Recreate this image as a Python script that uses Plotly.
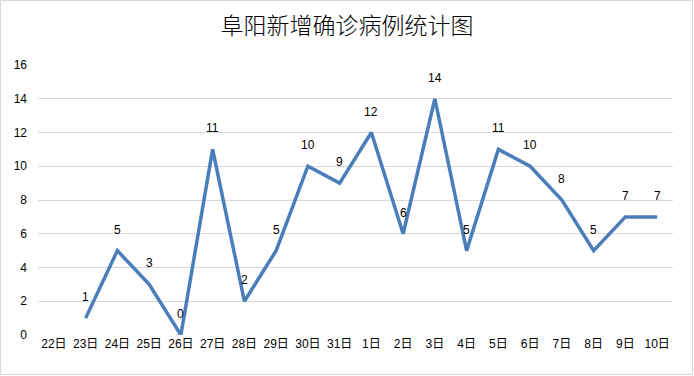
import plotly.graph_objects as go

categories = ["22日", "23日", "24日", "25日", "26日", "27日", "28日", "29日", "30日", "31日",
              "1日", "2日", "3日", "4日", "5日", "6日", "7日", "8日", "9日", "10日"]
values = [None, 1, 5, 3, 0, 11, 2, 5, 10, 9, 12, 6, 14, 5, 11, 10, 8, 5, 7, 7]
title = "阜阳新增确诊病例统计图"
y_ticks = [0, 2, 4, 6, 8, 10, 12, 14, 16]

W, H = 694, 376
ML, MR, MT, MB = 38, 21, 65, 41
PW, PH = W - ML - MR, H - MT - MB

font_fam = "Liberation Sans, Noto Sans CJK SC, sans-serif"

fig = go.Figure()
fig.add_trace(go.Scatter(
    x=categories, y=values, mode="lines",
    line=dict(color="#4A7EBB", width=3.5),
    connectgaps=False, hoverinfo="x+y",
))

for c, v in zip(categories, values):
    if v is None:
        continue
    fig.add_annotation(x=c, y=v, text=str(v), showarrow=False, yshift=21,
                       font=dict(size=12, color="#000000", family=font_fam))

fig.add_shape(type="rect", xref="paper", yref="paper",
              x0=-(ML - 0.5) / PW, x1=1 + (MR - 1.5) / PW,
              y0=-(MB - 1.5) / PH, y1=1 + (MT - 0.5) / PH,
              line=dict(color="#D9D9D9", width=1), layer="below")

fig.update_layout(
    width=W, height=H,
    margin=dict(l=ML, r=MR, t=MT, b=MB),
    paper_bgcolor="white", plot_bgcolor="white",
    showlegend=False,
    title=dict(text=title, x=0.5, xanchor="center", y=1 - 26 / H, yanchor="middle",
               font=dict(size=23, color="#000000", weight=300,
                         family="Noto Sans CJK SC, sans-serif")),
    xaxis=dict(type="category", categoryorder="array", categoryarray=categories,
               showgrid=False, showline=False, ticks="", zeroline=False,
               tickfont=dict(size=12, color="#000000", family=font_fam),
               range=[-0.5, len(categories) - 0.5], fixedrange=True),
    yaxis=dict(range=[0, 16], tickvals=y_ticks, showgrid=True, gridcolor="#D9D9D9",
               gridwidth=1, zeroline=False, showline=False, ticks="",
               ticklabelstandoff=10,
               tickfont=dict(size=12, color="#000000", family=font_fam), fixedrange=True),
)

fig.write_html("out.html", config={"displayModeBar": False},
               post_script="document.body.style.margin='0';document.body.style.overflow='hidden';")
